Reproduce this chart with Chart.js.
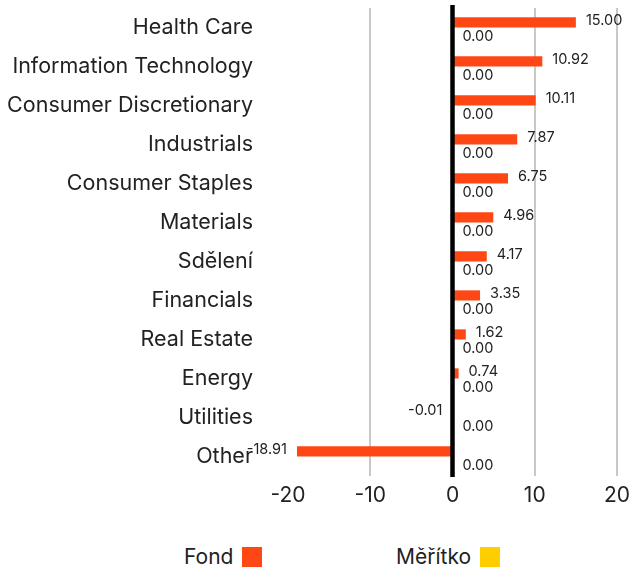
<!DOCTYPE html>
<html>
<head>
<meta charset="utf-8">
<script src="https://cdn.jsdelivr.net/npm/chart.js@4"></script>
<style>
  html, body { margin: 0; padding: 0; background: #fff; }
  #wrap { position: relative; width: 630px; height: 572px; }
  #box { position: absolute; left: 0; top: 0; width: 630px; height: 530px; }
  .leg { position: absolute; top: 544px; font: 21px Inter, sans-serif; color: #222; display: flex; align-items: center; }
  .leg span.sw { display: inline-block; width: 20px; height: 20px; margin-left: 9px; }
</style>
</head>
<body>
<div id="wrap">
  <div id="box"><canvas id="chart"></canvas></div>
  <div class="leg" style="left:184px">Fond<span class="sw" style="background:#ff4716"></span></div>
  <div class="leg" style="left:396px">Měřítko<span class="sw" style="background:#ffce00"></span></div>
</div>
<script>
const categories = ['Health Care', 'Information Technology', 'Consumer Discretionary', 'Industrials',
  'Consumer Staples', 'Materials', 'Sdělení', 'Financials', 'Real Estate', 'Energy', 'Utilities', 'Other'];
const fond = [15.00, 10.92, 10.11, 7.87, 6.75, 4.96, 4.17, 3.35, 1.62, 0.74, -0.01, -18.91];
const meritko = [0, 0, 0, 0, 0, 0, 0, 0, 0, 0, 0, 0];
const xTicks = [-20, -10, 0, 10, 20];

const FONT = 'Inter, sans-serif';

// value labels next to bar ends
const valueLabels = {
  id: 'valueLabels',
  afterDatasetsDraw(chart) {
    const ctx = chart.ctx;
    ctx.save();
    ctx.font = '14.5px ' + FONT;
    ctx.fillStyle = '#222';
    ctx.textBaseline = 'middle';
    chart.data.datasets.forEach((ds, di) => {
      const meta = chart.getDatasetMeta(di);
      const dy = di === 0 ? -2 : 4;
      meta.data.forEach((el, i) => {
        const v = ds.data[i];
        if (v < 0) {
          ctx.textAlign = 'right';
          ctx.fillText(v.toFixed(2), el.x - 10, el.y + dy);
        } else {
          ctx.textAlign = 'left';
          ctx.fillText(v.toFixed(2), el.x + 10, el.y + dy);
        }
      });
    });
    // zero line on top of the bars
    const x0 = chart.scales.x.getPixelForValue(0);
    const a = chart.chartArea;
    ctx.strokeStyle = '#000';
    ctx.lineWidth = 4.5;
    ctx.beginPath();
    ctx.moveTo(x0, a.top - 3);
    ctx.lineTo(x0, a.bottom + 1);
    ctx.stroke();
    ctx.restore();
  }
};

new Chart(document.getElementById('chart'), {
  type: 'bar',
  data: {
    labels: categories,
    datasets: [
      { label: 'Fond', data: fond, backgroundColor: '#ff4716' },
      { label: 'Měřítko', data: meritko, backgroundColor: '#ffce00' }
    ]
  },
  options: {
    indexAxis: 'y',
    responsive: true,
    maintainAspectRatio: false,
    animation: false,
    categoryPercentage: 0.52,
    barPercentage: 1,
    layout: { padding: { top: 8, right: 13, left: 0, bottom: 0 } },
    plugins: { legend: { display: false }, tooltip: { enabled: false } },
    scales: {
      x: {
        min: -20,
        max: 20,
        afterBuildTicks: s => { s.ticks = xTicks.map(v => ({ value: v })); },
        afterFit: s => { s.height = 54; s.paddingLeft = 0; s.paddingRight = 0; },
        border: { display: false },
        grid: {
          drawTicks: false,
          lineWidth: 2,
          color: c => (c.tick && (c.tick.value === -20 || c.tick.value === 0)) ? 'rgba(0,0,0,0)' : '#c8c8c8'
        },
        ticks: { padding: 7, color: '#222', font: { size: 21, family: FONT } }
      },
      y: {
        afterFit: s => { s.width = 288; s.paddingTop = 0; s.paddingBottom = 0; },
        border: { display: false },
        grid: { display: false, drawTicks: false },
        ticks: { padding: 35, color: '#222', font: { size: 21.5, family: FONT } }
      }
    }
  },
  plugins: [valueLabels]
});
</script>
</body>
</html>
